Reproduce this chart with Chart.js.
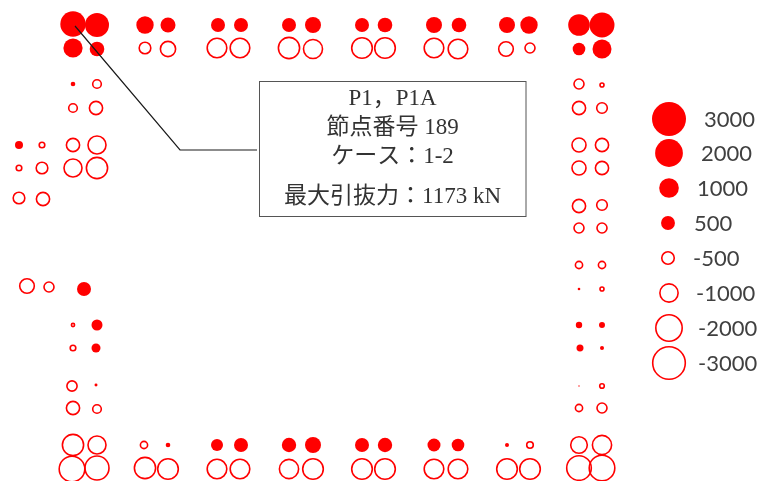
<!DOCTYPE html>
<html>
<head>
<meta charset="utf-8">
<style>
  html, body { margin: 0; padding: 0; background: #fff; }
  #wrap { width: 759px; height: 481px; }
</style>
<script src="https://cdn.jsdelivr.net/npm/chart.js@4"></script>
</head>
<body>
<div id="wrap"><canvas id="piles" width="759" height="481"></canvas></div>
<script>
// pile plan positions (plan units) and axial force in kN, + = filled, - = outlined
const topX = [73, 97, 73, 97, 145, 168, 145, 168, 218, 241, 217, 240, 289, 313, 289, 313, 362, 385, 362, 385, 434, 459, 434, 458, 507, 529, 506, 530];
const topY = [24, 25, 48, 49, 25, 25, 48, 49, 25, 25, 48, 48, 25, 25, 48, 49, 25, 25, 48, 48, 25, 25, 48, 49, 25, 25, 49, 48];
const topKN = [1674, 1495, 957, 553, 786, 584, -439, -715, 509, 509, -1144, -1144, 509, 664, -1325, -1080, 509, 553, -1256, -1256, 664, 553, -1144, -1144, 664, 786, -664, -337];

const leftX = [73, 97, 73, 96, 73, 97, 73, 97, 19, 42, 19, 42, 19, 43, 27, 49, 84, 73, 97, 73, 96, 72, 96, 73, 97];
const leftY = [84, 84, 108, 108, 145, 145, 168, 168, 145, 145, 168, 168, 198, 199, 286, 287, 289, 325, 325, 348, 348, 386, 385, 408, 409];
const leftKN = [55, -260, -260, -553, -553, -977, -977, -1325, 166, -127, -127, -439, -439, -553, -664, -337, 509, -55, 314, -127, 210, -349, 23, -553, -260];

const rightX = [579, 602, 579, 602, 579, 602, 579, 602, 579, 602, 579, 602, 579, 602, 579, 602, 579, 602, 579, 602, 579, 602, 580, 602, 579, 602];
const rightY = [25, 25, 49, 49, 84, 85, 108, 108, 145, 145, 168, 168, 206, 205, 228, 228, 265, 265, 289, 289, 325, 325, 348, 348, 386, 386];
const rightKN = [1211, 1622, 412, 937, -337, -76, -553, -374, -615, -553, -615, -553, -553, -374, -337, -337, -192, -192, 18, -76, 106, 93, 127, 42, 5, -93];

const bottomX = [579, 602, 73, 97, 144, 168, 217, 241, 289, 313, 362, 385, 434, 458, 507, 530, 579, 602, 72, 97, 145, 168, 217, 240, 289, 313, 362, 385, 434, 458, 507, 530, 579, 602];
const bottomY = [408, 408, 445, 445, 445, 445, 445, 445, 445, 445, 445, 445, 445, 445, 445, 445, 445, 445, 469, 468, 468, 469, 469, 469, 469, 469, 469, 469, 469, 469, 469, 469, 468, 468];
const bottomKN = [-192, -337, -1325, -977, -192, 55, 374, 509, 538, 664, 509, 538, 439, 412, 42, -166, -841, -1101, -1892, -1674, -1325, -1256, -1144, -1144, -1101, -1256, -1256, -1256, -1144, -1144, -1256, -1256, -1754, -1892];

const scaleKN = [3000, 2000, 1000, 500, -500, -1000, -2000, -3000];
const scaleLabels = ['3000', '2000', '1000', '500', '-500', '-1000', '-2000', '-3000'];
const scaleX = [669, 669, 669, 668, 668, 669, 669, 669];
const scaleY = [119, 153, 188, 223, 258, 293, 328, 363];
const scaleLabelX = [704, 701, 697, 694, 693, 696, 698, 698];

const leaderX = [75, 180, 257];
const leaderY = [26, 150, 150];

const noteLines = ['P1，P1A', '節点番号 189', 'ケース：1-2', '最大引抜力：1173 kN'];
const noteLineY = [99, 128, 157, 197];

function radiusOf(kN) {
    const r = 17 * Math.sqrt(Math.abs(kN) / 3000);
    return kN < 0 ? Math.max(r - 0.7, 0.5) : r;
}

function toBubbles(xs, ys, forces) {
    return xs.map((x, i) => ({ x: x, y: ys[i], r: radiusOf(forces[i]), kN: forces[i] }));
}

function bubbleSet(points) {
    return {
        type: 'bubble',
        data: points,
        backgroundColor: c => (c.raw.kN > 0 ? '#ff0000' : 'rgba(255,255,255,0)'),
        borderColor: '#ff0000',
        borderWidth: c => (c.raw.kN > 0 ? 0 : 1.6),
        hoverRadius: 0
    };
}

// callout box and scale labels are not something the library has a slot for
const annotations = {
    id: 'annotations',
    afterDatasetsDraw(chart) {
        const { ctx, scales } = chart;
        const xs = scales.x;
        const ys = scales.y;
        ctx.save();

        ctx.fillStyle = '#fff';
        ctx.fillRect(xs.getPixelForValue(259), ys.getPixelForValue(81.5), 267, 135);
        ctx.strokeStyle = '#555';
        ctx.lineWidth = 1;
        ctx.strokeRect(xs.getPixelForValue(259.5), ys.getPixelForValue(81.5), 266.5, 135);

        ctx.fillStyle = '#333';
        ctx.font = '23px "Liberation Serif", "Noto Sans CJK JP"';
        ctx.textAlign = 'center';
        ctx.textBaseline = 'middle';
        noteLines.forEach((line, i) => {
            ctx.fillText(line, xs.getPixelForValue(392.5), ys.getPixelForValue(noteLineY[i]));
        });

        ctx.fillStyle = '#404040';
        ctx.font = '22px Lato, "Open Sans", sans-serif';
        ctx.textAlign = 'left';
        scaleLabels.forEach((label, i) => {
            ctx.fillText(label, xs.getPixelForValue(scaleLabelX[i]), ys.getPixelForValue(scaleY[i] + 1));
        });
        ctx.restore();
    }
};

new Chart(document.getElementById('piles'), {
    data: {
        datasets: [
            bubbleSet(toBubbles(topX, topY, topKN)),
            bubbleSet(toBubbles(leftX, leftY, leftKN)),
            bubbleSet(toBubbles(rightX, rightY, rightKN)),
            bubbleSet(toBubbles(bottomX, bottomY, bottomKN)),
            bubbleSet(toBubbles(scaleX, scaleY, scaleKN)),
            {
                type: 'line',
                order: -1, // leader sits on top of the pile marks
                data: leaderX.map((x, i) => ({ x: x, y: leaderY[i] })),
                borderColor: '#1a1a1a',
                borderWidth: 1.2,
                pointRadius: 0,
                tension: 0
            }
        ]
    },
    options: {
        responsive: false,
        animation: false,
        layout: { padding: 0, autoPadding: false },
        plugins: {
            legend: { display: false },
            tooltip: { enabled: false }
        },
        scales: {
            x: { type: 'linear', min: 0, max: 759, display: false },
            y: { type: 'linear', min: 0, max: 481, reverse: true, display: false }
        }
    },
    plugins: [annotations]
});
</script>
</body>
</html>
